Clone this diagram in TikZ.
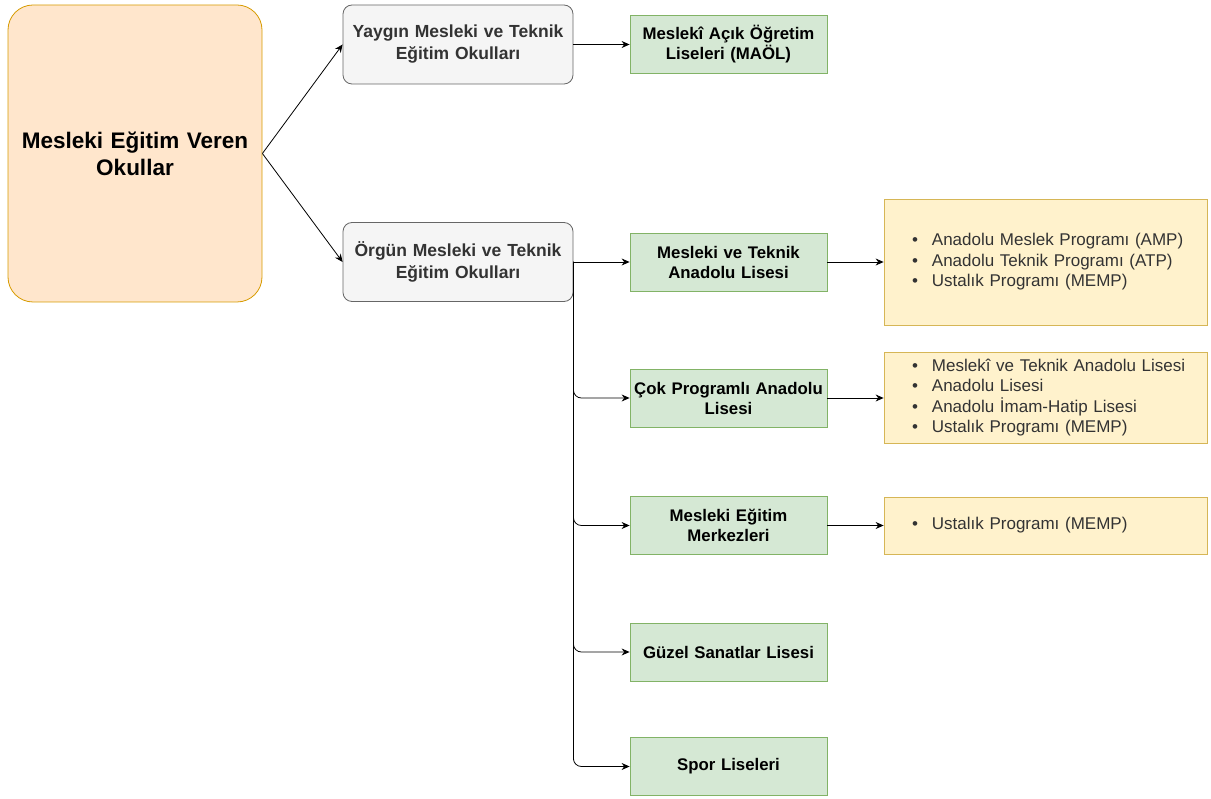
\documentclass[tikz,border=0pt]{standalone}
\usepackage{fontspec}
\setmainfont{Liberation Sans}
\usepackage{tikz}
\usetikzlibrary{positioning, arrows.meta}
\definecolor{rootfill}{HTML}{FFE6CC}
\definecolor{rootline}{HTML}{D79B00}
\definecolor{grayfill}{HTML}{F5F5F5}
\definecolor{grayline}{HTML}{666666}
\definecolor{graytext}{HTML}{333333}
\definecolor{greenfill}{HTML}{D5E8D4}
\definecolor{greenline}{HTML}{82B366}
\definecolor{yellowfill}{HTML}{FFF2CC}
\definecolor{yellowline}{HTML}{D6B656}
\newcommand{\itm}[1]{\hspace*{19pt}\textbullet\hspace{14pt}#1}
\tikzset{
  rootbox/.style={draw=rootline, fill=rootfill, rounded corners=25pt, line width=0.8pt,
    minimum width=254pt, minimum height=297pt, text width=250pt, inner sep=0pt, align=center,
    font=\bfseries\fontsize{22.5}{27}\selectfont},
  graybox/.style={draw=grayline, fill=grayfill, rounded corners=9pt, line width=0.8pt,
    minimum width=230pt, minimum height=79pt, text width=229pt, inner sep=0pt, align=center,
    text=graytext, font=\bfseries\fontsize{17.5}{22}\selectfont},
  greenbox/.style={draw=greenline, fill=greenfill, line width=0.8pt,
    minimum width=197pt, minimum height=58pt, text width=197pt, inner sep=0pt, align=center,
    font=\bfseries\fontsize{16.8}{20}\selectfont},
  yellowbox/.style={draw=yellowline, fill=yellowfill, line width=0.8pt,
    minimum width=323pt, text width=305pt, inner xsep=9pt, inner ysep=0pt, align=left,
    text=graytext, font=\fontsize{17}{20.5}\selectfont},
  conn/.style={-{Stealth[length=8pt, width=7pt]}, line width=0.8pt},
}
\begin{document}
\begin{tikzpicture}[x=1pt, y=-1pt]
\useasboundingbox (0,0) rectangle (1211,799);
\node[rootbox] at (135,153.5) (root) {Mesleki Eğitim Veren\\Okullar};
\node[graybox] at (458,44.5) (yaygin) {Yaygın Mesleki ve Teknik\\Eğitim Okulları};
\node[graybox] at (458,262) (orgun) {Örgün Mesleki ve Teknik\\Eğitim Okulları};
\node[greenbox] at (728.5,44.5) (maol) {Meslekî Açık Öğretim\\Liseleri (MAÖL)};
\node[greenbox] at (728.5,262) (mtal) {Mesleki ve Teknik\\Anadolu Lisesi};
\node[greenbox] at (728.5,398) (cpal) {Çok Programlı Anadolu\\Lisesi};
\node[greenbox] at (728.5,525.5) (mem) {Mesleki Eğitim\\Merkezleri};
\node[greenbox] at (728.5,652) (gsl) {Güzel Sanatlar Lisesi};
\node[greenbox] at (728.5,766.5) (spor) {Spor Liseleri};
\node[yellowbox, minimum height=126pt] at (1045.5,262) (mtalprog)
  {\itm{Anadolu Meslek Programı (AMP)}\\\itm{Anadolu Teknik Programı (ATP)}\\\itm{Ustalık Programı (MEMP)}};
\node[yellowbox, minimum height=91pt] at (1045.5,397.5) (cpalprog)
  {\itm{Meslekî ve Teknik Anadolu Lisesi}\\\itm{Anadolu Lisesi}\\\itm{Anadolu İmam-Hatip Lisesi}\\\itm{Ustalık Programı (MEMP)}};
\node[yellowbox, minimum height=57pt] at (1045.5,525.5) (memprog)
  {\itm{Ustalık Programı (MEMP)}};
\draw[conn] (root.east) -- (yaygin.west);
\draw[conn] (root.east) -- (orgun.west);
\draw[conn] (yaygin.east) -- (maol.west);
\draw[conn] (orgun.east) -- (mtal.west);
\draw[conn, rounded corners=8pt] (orgun.east) -- (orgun.east |- cpal.west) -- (cpal.west);
\draw[conn, rounded corners=8pt] (orgun.east) -- (orgun.east |- mem.west) -- (mem.west);
\draw[conn, rounded corners=8pt] (orgun.east) -- (orgun.east |- gsl.west) -- (gsl.west);
\draw[conn, rounded corners=8pt] (orgun.east) -- (orgun.east |- spor.west) -- (spor.west);
\draw[conn] (mtal.east) -- (mtalprog.west);
\draw[conn] (cpal.east) -- (cpal.east -| cpalprog.west);
\draw[conn] (mem.east) -- (memprog.west);
\end{tikzpicture}
\end{document}
